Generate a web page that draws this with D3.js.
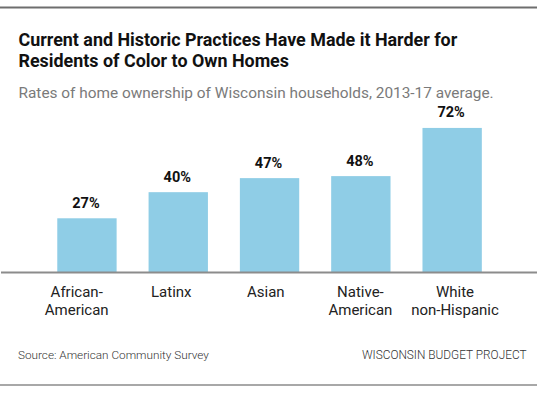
<!DOCTYPE html>
<html>
<head>
<meta charset="utf-8">
<script src="https://cdn.jsdelivr.net/npm/d3@7"></script>
<style>
	html, body { margin: 0; padding: 0; background: #fff; }
	svg { display: block; font-family: Roboto, "Noto Sans", sans-serif; }
</style>
</head>
<body>
<div id="chart"></div>
<script>
// chart values
const categories = [['African-', 'American'], ['Latinx'], ['Asian'], ['Native-', 'American'], ['White', 'non-Hispanic']]
const rates = [27, 40, 47, 48, 72]
const valueLabels = ['27%', '40%', '47%', '48%', '72%']

const title = ['Current and Historic Practices Have Made it Harder for', 'Residents of Color to Own Homes']
const subtitle = 'Rates of home ownership of Wisconsin households, 2013-17 average.'
const source = 'Source: American Community Survey'
const credit = 'WISCONSIN BUDGET PROJECT'

const width = 537
const height = 399

const svg = d3.select('#chart')
	.append('svg')
	.attr('width', width)
	.attr('height', height)

// frame rules
svg.append('line')
	.attr('x1', 0).attr('x2', width)
	.attr('y1', 7.5).attr('y2', 7.5)
	.attr('stroke', '#6e6e6e')
	.attr('stroke-width', 2)

svg.append('line')
	.attr('x1', 0).attr('x2', width)
	.attr('y1', 385).attr('y2', 385)
	.attr('stroke', '#a8a8a8')
	.attr('stroke-width', 2)

// title block
svg.append('g')
	.selectAll('text')
	.data(title)
	.join('text')
	.attr('x', 18.5)
	.attr('y', (d, i) => 46 + i * 20.7)
	.attr('font-size', 17.9)
	.attr('font-weight', 700)
	.attr('fill', '#111')
	.text(d => d)

svg.append('text')
	.attr('x', 18.5)
	.attr('y', 98)
	.attr('font-size', 15.4)
	.attr('fill', '#7a7a7a')
	.text(subtitle)

// scales
const x = d3.scaleBand()
	.domain(d3.range(rates.length))
	.range([41.3, 497.8])
	.paddingInner(0.35)
	.paddingOuter(0.175)

// category labels sit on their own, slightly wider grid
const xLabel = d3.scalePoint()
	.domain(d3.range(categories.length))
	.range([76.7, 455])

const y = d3.scaleLinear()
	.domain([0, 100])
	.range([272.5, 71.7])

const chart = svg.append('g')

chart.selectAll('rect')
	.data(rates)
	.join('rect')
	.attr('x', (d, i) => x(i))
	.attr('y', d => y(d))
	.attr('width', x.bandwidth())
	.attr('height', d => y(0) - y(d))
	.attr('fill', '#8fcde6')

chart.selectAll('.value')
	.data(rates)
	.join('text')
	.attr('class', 'value')
	.attr('x', (d, i) => x(i) + x.bandwidth() / 2 - 1)
	.attr('y', d => y(d) - 10.5)
	.attr('text-anchor', 'middle')
	.attr('font-size', 14.5)
	.attr('font-weight', 700)
	.attr('fill', '#111')
	.text((d, i) => valueLabels[i])

// baseline
svg.append('line')
	.attr('x1', 1).attr('x2', width)
	.attr('y1', y(0)).attr('y2', y(0))
	.attr('stroke', '#8c8c8c')
	.attr('stroke-width', 2)

// category labels
const cats = svg.append('g')
	.selectAll('text')
	.data(categories)
	.join('text')
	.attr('text-anchor', 'middle')
	.attr('font-size', 15)
	.attr('fill', '#222')

cats.selectAll('tspan')
	.data((d, i) => d.map(line => ({ line, i })))
	.join('tspan')
	.attr('x', d => xLabel(d.i))
	.attr('y', (d, j) => 297 + j * 18)
	.text(d => d.line)

// footer
svg.append('text')
	.attr('x', 18)
	.attr('y', 359)
	.attr('font-size', 11.75)
	.attr('font-weight', 300)
	.attr('fill', '#333')
	.text(source)

svg.append('text')
	.attr('x', 526.5)
	.attr('y', 359)
	.attr('text-anchor', 'end')
	.attr('font-size', 11.85)
	.attr('font-weight', 300)
	.attr('fill', '#333')
	.text(credit)
</script>
</body>
</html>
